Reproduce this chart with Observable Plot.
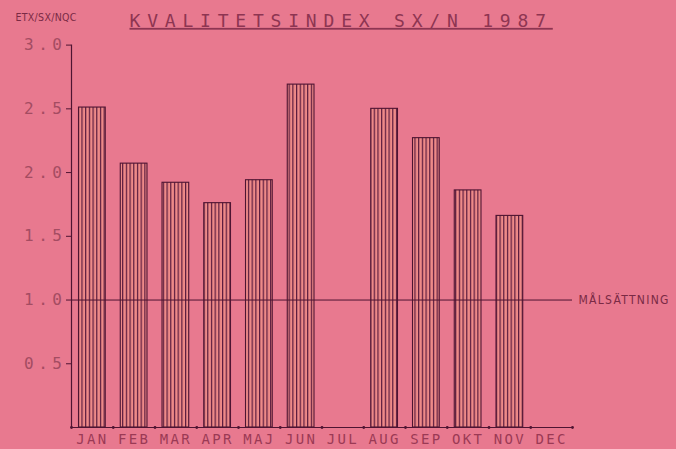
<!DOCTYPE html>
<html>
<head>
<meta charset="utf-8">
<script src="https://cdn.jsdelivr.net/npm/d3@7"></script>
<script src="https://cdn.jsdelivr.net/npm/@observablehq/plot@0.6"></script>
<style>
  html, body { margin: 0; padding: 0; background: #e8798f; }
  #chart svg { display: block; }
</style>
</head>
<body>
<div id="chart"></div>
<script>
const months = ["JAN","FEB","MAR","APR","MAJ","JUN","JUL","AUG","SEP","OKT","NOV","DEC"];
const values = [2.51, 2.07, 1.92, 1.76, 1.94, 2.69, null, 2.50, 2.27, 1.86, 1.66, null];
const yTicks = [0.5, 1.0, 1.5, 2.0, 2.5, 3.0];
const target = 1.0;
const targetLabel = "MÅLSÄTTNING";
const title = "KVALITETSINDEX SX/N 1987";
const unitLabel = "ETX/SX/NQC";

const data = months.map((m, i) => ({month: m, value: values[i]}));
const bars = data.filter(d => d.value != null);

const ink = "#8a2e48";
const dark = "#4e1432";

const chart = Plot.plot({
  width: 676,
  height: 449,
  marginLeft: 71,
  marginRight: 104,
  marginTop: 44.6,
  marginBottom: 22,
  style: {background: "transparent", fontFamily: "'DejaVu Sans Mono', monospace", color: ink},
  x: {domain: months, paddingInner: 0.36, paddingOuter: 0.18, round: false, label: null},
  y: {domain: [0, 3], label: null},
  marks: [
    Plot.barY(bars, {x: "month", y: "value", fill: "url(#stripes)", stroke: dark, strokeWidth: 1.1}),
    Plot.ruleY([target], {stroke: dark, strokeWidth: 1}),
    Plot.ruleY([0], {stroke: dark, strokeWidth: 1.2}),
    Plot.frame({anchor: "left", stroke: dark, strokeWidth: 1.2}),
    Plot.dot(months, {x: d => d, y: 0, dx: -20.875, r: 1.4, fill: dark, stroke: null}),
    Plot.dot(months.slice(-1), {x: d => d, y: 0, dx: 20.875, r: 1.4, fill: dark, stroke: null}),
    Plot.axisY({ticks: yTicks, tickFormat: d3.format(".1f"), tickSize: 5, tickPadding: 0, stroke: dark,
      fontSize: 16, fill: "#a44c62", label: null}),
    Plot.axisX({tickSize: 0, tickPadding: 7, fontSize: 14, fill: "#9b3a55", label: null}),
    Plot.text([targetLabel], {frameAnchor: "right", y: () => target, dx: 6, textAnchor: "start",
      fontSize: 12, fill: "#7a2a45", fontFamily: "'DejaVu Sans Condensed', sans-serif"}),
    Plot.text([title], {frameAnchor: "top-left", dx: 58, dy: -24, textAnchor: "start", lineAnchor: "middle",
      fontSize: 18, fill: "#8e3552"}),
    Plot.text([unitLabel], {frameAnchor: "top-left", dx: -56, dy: -27, textAnchor: "start", lineAnchor: "middle",
      fontSize: 10.5, fill: "#7a2a45", fontFamily: "'DejaVu Sans Condensed', sans-serif"})
  ]
});

// stripe pattern for bar fill
const svg = d3.select(chart);
const defs = svg.insert("defs", ":first-child");
const pat = defs.append("pattern").attr("id", "stripes").attr("patternUnits", "userSpaceOnUse")
  .attr("width", 3.7).attr("height", 10);
pat.append("rect").attr("width", 3.7).attr("height", 10).attr("fill", "#ee8a88");
pat.append("rect").attr("x", 0).attr("width", 1.2).attr("height", 10).attr("fill", "#5a1a3e");

// text styling: letter spacing + underline
svg.selectAll("text").filter(function() { return this.textContent === title; })
  .style("letter-spacing", "6.8px").style("text-decoration", "underline").style("font-weight", "normal");
svg.selectAll("g[aria-label='x-axis tick label'] text").style("letter-spacing", "2.4px");
svg.selectAll("g[aria-label='y-axis tick label'] text").style("letter-spacing", "4.5px");
svg.selectAll("text").filter(function() { return this.textContent === targetLabel; }).style("letter-spacing", "1.3px");
svg.selectAll("text").filter(function() { return this.textContent === unitLabel; }).style("letter-spacing", "0.3px");

document.getElementById("chart").append(chart);
</script>
</body>
</html>
